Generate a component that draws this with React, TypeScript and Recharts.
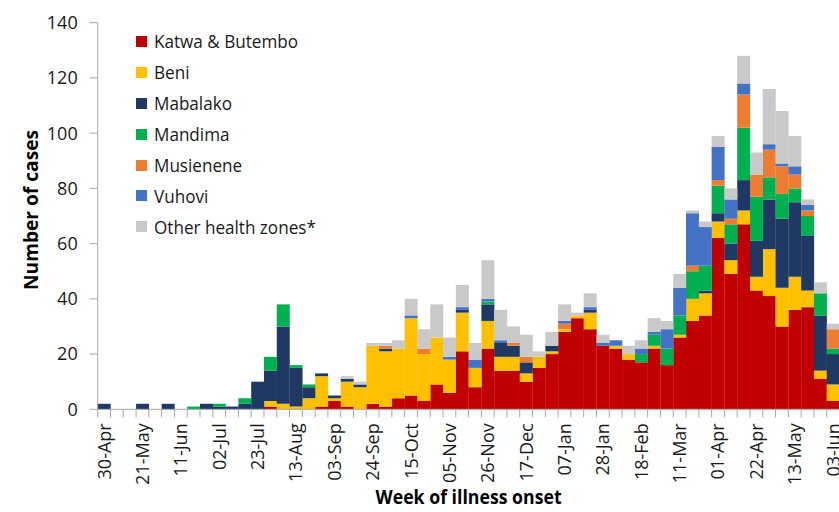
import React from 'react';
import { BarChart, Bar, XAxis, YAxis, Legend, Label } from 'recharts';

const weeks = [
  '30-Apr', '07-May', '14-May', '21-May', '28-May', '04-Jun', '11-Jun', '18-Jun', '25-Jun', '02-Jul',
  '09-Jul', '16-Jul', '23-Jul', '30-Jul', '06-Aug', '13-Aug', '20-Aug', '27-Aug', '03-Sep', '10-Sep',
  '17-Sep', '24-Sep', '01-Oct', '08-Oct', '15-Oct', '22-Oct', '29-Oct', '05-Nov', '12-Nov', '19-Nov',
  '26-Nov', '03-Dec', '10-Dec', '17-Dec', '24-Dec', '31-Dec', '07-Jan', '14-Jan', '21-Jan', '28-Jan',
  '04-Feb', '11-Feb', '18-Feb', '25-Feb', '04-Mar', '11-Mar', '18-Mar', '25-Mar', '01-Apr', '08-Apr',
  '15-Apr', '22-Apr', '29-Apr', '06-May', '13-May', '20-May', '27-May', '03-Jun',
];

const katwaButembo = [
  0, 0, 0, 0, 0, 0, 0, 0, 0, 0,
  0, 0, 0, 1, 0, 0, 0, 1, 3, 1,
  0, 2, 1, 4, 5, 3, 9, 6, 21, 8,
  22, 14, 14, 10, 15, 20, 28, 33, 29, 23,
  22, 18, 17, 22, 16, 26, 32, 34, 62, 49,
  67, 43, 41, 30, 36, 37, 11, 3,
];
const beni = [
  0, 0, 0, 0, 0, 0, 0, 0, 0, 0,
  0, 0, 0, 2, 2, 1, 4, 11, 1, 9,
  8, 21, 20, 18, 28, 17, 17, 12, 14, 7,
  10, 5, 5, 3, 4, 1, 1, 1, 6, 0,
  1, 2, 0, 1, 0, 1, 8, 8, 6, 5,
  5, 5, 17, 14, 12, 6, 3, 6,
];
const mabalako = [
  2, 0, 0, 2, 0, 2, 0, 0, 2, 1,
  1, 2, 10, 11, 28, 14, 4, 1, 1, 1,
  1, 0, 1, 0, 0, 0, 0, 0, 1, 0,
  6, 5, 4, 4, 0, 2, 0, 0, 1, 0,
  0, 0, 0, 0, 0, 0, 0, 1, 3, 6,
  11, 13, 18, 25, 27, 20, 20, 11,
];
const mandima = [
  0, 0, 0, 0, 0, 0, 0, 1, 0, 1,
  0, 2, 0, 5, 8, 1, 1, 0, 0, 0,
  0, 0, 0, 0, 0, 0, 0, 0, 0, 0,
  1, 0, 0, 0, 0, 0, 0, 0, 0, 0,
  0, 0, 3, 4, 6, 7, 10, 9, 10, 7,
  19, 16, 8, 9, 5, 7, 8, 2,
];
const musienene = [
  0, 0, 0, 0, 0, 0, 0, 0, 0, 0,
  0, 0, 0, 0, 0, 0, 0, 0, 0, 0,
  0, 0, 1, 0, 0, 2, 0, 0, 0, 0,
  0, 0, 1, 2, 0, 0, 2, 0, 0, 0,
  0, 0, 0, 0, 0, 0, 2, 0, 2, 2,
  12, 8, 10, 10, 5, 2, 0, 7,
];
const vuhovi = [
  0, 0, 0, 0, 0, 0, 0, 0, 0, 0,
  0, 0, 0, 0, 0, 0, 0, 0, 0, 0,
  0, 0, 0, 0, 1, 0, 0, 1, 1, 3,
  1, 1, 0, 0, 0, 0, 1, 0, 1, 1,
  2, 0, 2, 1, 7, 10, 19, 14, 12, 7,
  4, 0, 2, 1, 3, 2, 0, 0,
];
const otherZones = [
  0, 0, 0, 0, 0, 0, 0, 0, 0, 0,
  0, 0, 0, 0, 0, 0, 0, 0, 0, 1,
  1, 1, 1, 3, 6, 7, 12, 7, 8, 6,
  14, 11, 6, 8, 2, 5, 6, 1, 5, 3,
  0, 3, 3, 5, 3, 5, 1, 2, 4, 4,
  10, 8, 20, 19, 11, 2, 4, 2,
];

const yTicks = [0, 20, 40, 60, 80, 100, 120, 140];

const series = [
  { key: 'katwa', name: 'Katwa & Butembo', color: '#C00000', values: katwaButembo },
  { key: 'beni', name: 'Beni', color: '#FFC000', values: beni },
  { key: 'mabalako', name: 'Mabalako', color: '#1F3864', values: mabalako },
  { key: 'mandima', name: 'Mandima', color: '#00B050', values: mandima },
  { key: 'musienene', name: 'Musienene', color: '#ED7D31', values: musienene },
  { key: 'vuhovi', name: 'Vuhovi', color: '#4472C4', values: vuhovi },
  { key: 'other', name: 'Other health zones*', color: '#C9C9C9', values: otherZones },
];

const data = weeks.map((week, i) => {
  const row: Record<string, string | number> = { week };
  series.forEach((s) => {
    row[s.key] = s.values[i];
  });
  return row;
});

const FONT = "'Open Sans', 'Noto Sans', sans-serif";
const AXIS = '#A6A6A6';
const TEXT = '#1a1a1a';

const CHART_W = 846;
const CHART_H = 512;
const M_TOP = 22.7;
const M_RIGHT = 6.5;
const M_BOTTOM = 22.7;
const Y_W = 97.7;
const X_H = 80;
const PLOT_W = CHART_W - M_RIGHT - Y_W;
const BAND = PLOT_W / weeks.length;

const XTick = (props: any) => {
  const { x, y, payload, index } = props;
  const left = x - BAND / 2;
  const right = x + BAND / 2;
  return (
    <g>
      <line x1={left} x2={left} y1={y - 8} y2={y} stroke={AXIS} strokeWidth={1} />
      {index === weeks.length - 1 && (
        <line x1={right} x2={right} y1={y - 8} y2={y} stroke={AXIS} strokeWidth={1} />
      )}
      {index % 3 === 0 && (
        <text
          transform={`translate(${x},${y + 6}) rotate(-90)`}
          textAnchor="end"
          dy="0.36em"
          fontFamily={FONT}
          fontSize={18}
          fill={TEXT}
        >
          {payload.value}
        </text>
      )}
    </g>
  );
};

const LegendContent = () => (
  <div style={{ fontFamily: FONT, fontSize: 19, color: TEXT }}>
    {series.map((s) => (
      <div
        key={s.key}
        style={{ display: 'flex', alignItems: 'center', height: 30.9, whiteSpace: 'nowrap' }}
      >
        <span
          style={{ display: 'inline-block', width: 11, height: 11, background: s.color, marginRight: 7 }}
        />
        <span style={{ display: 'inline-block', transform: 'scaleX(0.9)', transformOrigin: 'left center' }}>
          {s.name}
        </span>
      </div>
    ))}
  </div>
);

export default function App() {
  return (
    <div
      style={{
        position: 'absolute',
        left: 0,
        top: 0,
        width: 839,
        height: 512,
        overflow: 'hidden',
        background: '#fff',
      }}
    >
      <BarChart
        width={CHART_W}
        height={CHART_H}
        data={data}
        margin={{ top: M_TOP, right: M_RIGHT, bottom: M_BOTTOM, left: 0 }}
        barCategoryGap={0}
        barGap={0}
      >
        <XAxis
          dataKey="week"
          interval={0}
          height={X_H}
          tickLine={false}
          tickSize={8}
          tickMargin={0}
          axisLine={{ stroke: AXIS, strokeWidth: 1 }}
          tick={<XTick />}
        >
          <Label
            content={(p: any) => {
              const vb = p.viewBox || { x: 0, y: 0, width: 0, height: 0 };
              return (
                <text
                  x={vb.x + vb.width / 2}
                  y={497}
                  textAnchor="middle"
                  dominantBaseline="central"
                  fontFamily={FONT}
                  fontWeight="bold"
                  fontSize={19}
                  fill="#000"
                  textLength={186}
                  lengthAdjust="spacingAndGlyphs"
                >
                  Week of illness onset
                </text>
              );
            }}
          />
        </XAxis>
        <YAxis
          domain={[0, 140]}
          ticks={yTicks}
          width={Y_W}
          tickSize={8}
          tickMargin={12}
          axisLine={{ stroke: AXIS, strokeWidth: 1 }}
          tickLine={{ stroke: AXIS, strokeWidth: 1 }}
          tick={{ fill: TEXT, fontSize: 18, fontFamily: FONT }}
          allowDecimals={false}
        >
          <Label
            content={(p: any) => {
              const vb = p.viewBox || { x: 0, y: 0, width: 0, height: 0 };
              const cy = 210;
              return (
                <text
                  transform={`translate(31,${cy}) rotate(-90)`}
                  textAnchor="middle"
                  dominantBaseline="central"
                  fontFamily={FONT}
                  fontWeight="bold"
                  fontSize={19}
                  fill="#000"
                  textLength={160}
                  lengthAdjust="spacingAndGlyphs"
                >
                  Number of cases
                </text>
              );
            }}
          />
        </YAxis>
        <Legend
          layout="vertical"
          align="center"
          verticalAlign="middle"
          wrapperStyle={{ left: 136, top: 26, width: 'auto', height: 'auto' }}
          content={<LegendContent />}
        />
        {series.map((s) => (
          <Bar
            key={s.key}
            dataKey={s.key}
            name={s.name}
            stackId="cases"
            fill={s.color}
            isAnimationActive={false}
          />
        ))}
      </BarChart>
    </div>
  );
}
